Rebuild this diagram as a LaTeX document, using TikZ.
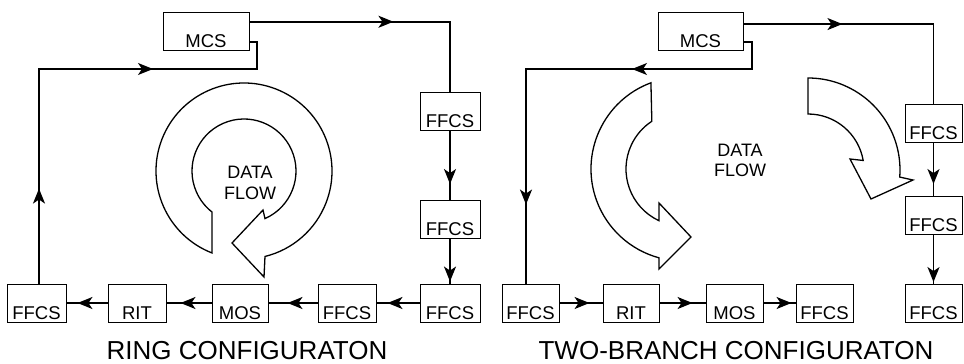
\documentclass[tikz,border=0pt]{standalone}
\usepackage{fontspec}
\setmainfont{Liberation Sans}
\usetikzlibrary{arrows.meta,calc}
\newcommand\headat[2]{\draw[conn,head] #2 -- #1;}
\begin{document}
\begin{tikzpicture}[x=1pt,y=-1pt,
  box/.style={draw,line width=0.9pt,minimum width=#1,inner xsep=0pt,inner ysep=3pt,
    text height=32pt,text depth=0pt,font=\fontsize{18.5}{21}\selectfont},
  box/.default=58pt,
  conn/.style={line width=1.5pt},
  head/.style={-{Stealth[length=15pt,width=12pt,inset=4pt]}},
  flow/.style={line width=1.3pt,fill=white,line join=miter},
  title/.style={font=\fontsize{26}{30}\selectfont,inner sep=0pt},
  df/.style={align=center,font=\fontsize{18}{21.5}\selectfont}]
\useasboundingbox (0,0) rectangle (964,364);

% ---------------- Ring configuration ----------------
\node[box=86pt] (mcsL) at (206,31.5) {MCS};
\node[box=60pt] (ffL1) at (450,111.5) {FFCS};
\node[box=60pt] (ffL2) at (450,219.5) {FFCS};
\node[box=60pt] (ffL3) at (450,303) {FFCS};
\node[box=58pt] (ffL4) at (347,303) {FFCS};
\node[box=56pt] (mosL) at (240,303) {MOS};
\node[box=58pt] (ritL) at (137,303) {RIT};
\node[box=59pt] (ffL5) at (36.5,303) {FFCS};

\coordinate (tL) at ($(mcsL.north east)+(0,9.7)$);
\draw[conn] (tL) -| (ffL1.north);
\headat{($(tL)+(144,0)$)}{($(tL)+(124,0)$)}
\draw[conn] (ffL1.south) -- (ffL2.north);
\headat{($(ffL2.north)+(0,-16)$)}{($(ffL2.north)+(0,-36)$)}
\draw[conn] (ffL2.south) -- (ffL3.north);
\headat{($(ffL3.north)+(0,-2)$)}{($(ffL3.north)+(0,-22)$)}
\draw[conn] (ffL3.west) -- (ffL4.east);
\headat{($(ffL4.east)+(11,0)$)}{($(ffL4.east)+(31,0)$)}
\draw[conn] (ffL4.west) -- (mosL.east);
\headat{($(mosL.east)+(19,0)$)}{($(mosL.east)+(39,0)$)}
\draw[conn] (mosL.west) -- (ritL.east);
\headat{($(ritL.east)+(14,0)$)}{($(ritL.east)+(34,0)$)}
\draw[conn] (ritL.west) -- (ffL5.east);
\headat{($(ffL5.east)+(11,0)$)}{($(ffL5.east)+(31,0)$)}

\coordinate (uL) at ($(ffL5.north)+(2.5,0)$);
\coordinate (sL1) at (257,69);
\coordinate (sL2) at ($(mcsL.south east)+(0,-9)$);
\draw[conn] (uL) -- (uL |- sL1) -- (sL1) -- (sL1 |- sL2) -- (sL2);
\headat{($(uL)+(0,-95)$)}{($(uL)+(0,-75)$)}
\headat{($(uL |- sL1)+(114,0)$)}{($(uL |- sL1)+(94,0)$)}

\coordinate (cL) at (244,171);
\draw[flow] ($(cL)+(111.3:88)$) arc[start angle=111.3,end angle=436.2,radius=88]
  -- (264,277) -- (232,243) -- (263,210) -- ($(cL)+(426.2:52)$)
  arc[start angle=426.2,end angle=128,radius=52] -- cycle;
\node[df] (dfL) at (250,183) {DATA\\FLOW};

\node[title] (tiL) at (247,351) {RING CONFIGURATON};

% ---------------- Two-branch configuration ----------------
\node[box=85pt] (mcsR) at (700.5,31.5) {MCS};
\node[box=57pt] (ffR1) at (933.5,123.5) {FFCS};
\node[box=57pt] (ffR2) at (933.5,215.5) {FFCS};
\node[box=57pt] (ffR3) at (933.5,303.5) {FFCS};
\node[box=57pt] (ffR4) at (530.5,303) {FFCS};
\node[box=56pt] (ritR) at (631,303) {RIT};
\node[box=57pt] (mosR) at (734.5,303) {MOS};
\node[box=57pt] (ffR5) at (824.5,303) {FFCS};

\coordinate (tR) at ($(mcsR.north east)+(0,12)$);
\draw[conn] (tR) -| (ffR1.north);
\headat{($(tR)+(99,0)$)}{($(tR)+(79,0)$)}
\draw[conn] (ffR1.south) -- (ffR2.north);
\headat{($(ffR2.north)+(0,-12)$)}{($(ffR2.north)+(0,-32)$)}
\draw[conn] (ffR2.south) -- (ffR3.north);
\headat{($(ffR3.north)+(0,-2)$)}{($(ffR3.north)+(0,-22)$)}

\draw[conn] (ffR4.east) -- (ritR.west);
\headat{($(ritR.west)+(-13,0)$)}{($(ritR.west)+(-33,0)$)}
\draw[conn] (ritR.east) -- (mosR.west);
\headat{($(mosR.west)+(-13,0)$)}{($(mosR.west)+(-33,0)$)}
\draw[conn] (mosR.east) -- (ffR5.west);
\headat{($(ffR5.west)+(-4,0)$)}{($(ffR5.west)+(-24,0)$)}

\coordinate (dR) at ($(ffR4.north)+(-4.5,0)$);
\coordinate (sR1) at (752,69);
\coordinate (sR2) at ($(mcsR.south east)+(0,-9)$);
\draw[conn] (sR2) -- (sR1 |- sR2) -- (sR1) -- (dR |- sR1) -- (dR);
\headat{($(sR1)+(-120,0)$)}{($(sR1)+(-100,0)$)}
\headat{($(dR)+(0,-79)$)}{($(dR)+(0,-99)$)}

\coordinate (cA) at (683,169);
\draw[flow] ($(cA)+(249.6:92)$) arc[start angle=249.6,end angle=105.1,radius=92]
  -- (659,269) -- (691,237) -- (659,203) -- ($(cA)+(115:57)$)
  arc[start angle=115,end angle=236.85,radius=57] -- cycle;

\coordinate (cB) at (808,170);
\draw[flow] ($(cB)+(270:92)$) arc[start angle=270,end angle=364.4,radius=92]
  -- (913,180) -- (871,199) -- (850,159) -- ($(cB)+(350.2:56)$)
  arc[start angle=350.2,end angle=270,radius=56] -- cycle;

\node[df,font=\fontsize{18}{20}\selectfont] (dfR) at (740,160) {DATA\\FLOW};

\node[title] (tiR) at (736,351) {TWO-BRANCH CONFIGURATON};
\end{tikzpicture}
\end{document}
